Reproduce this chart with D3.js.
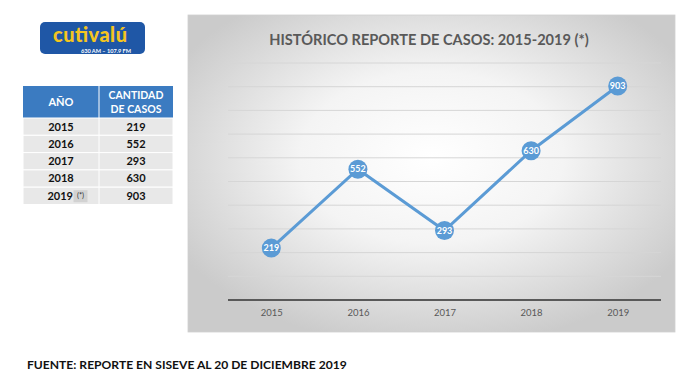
<!DOCTYPE html>
<html><head><meta charset="utf-8">
<script src="https://cdn.jsdelivr.net/npm/d3@7"></script>
<style>body{margin:0;background:#fff}svg{display:block}</style>
</head><body>
<script>
const years = ["2015","2016","2017","2018","2019"];
const cases = [219, 552, 293, 630, 903];
const tableYears = ["2015","2016","2017","2018","2019"];
const yTicks = [0,100,200,300,400,500,600,700,800,900,1000];
const title = "HISTÓRICO REPORTE DE CASOS: 2015-2019 (*)";
const footer = "FUENTE: REPORTE EN SISEVE AL 20 DE DICIEMBRE 2019";

const W = 696, H = 386;
const svg = d3.select("body").append("svg").attr("width", W).attr("height", H);
const defs = svg.append("defs");
const rg = defs.append("radialGradient").attr("id","bg").attr("cx","50%").attr("cy","45%").attr("r","60%");
rg.append("stop").attr("offset","0%").attr("stop-color","#ffffff");
rg.append("stop").attr("offset","45%").attr("stop-color","#f4f4f4");
rg.append("stop").attr("offset","100%").attr("stop-color","#cbcbcb");

const F = "Lato, 'Open Sans', sans-serif";

// Logo
const logo = svg.append("g");
logo.append("rect").attr("x",40).attr("y",22).attr("width",105).attr("height",32).attr("rx",5).attr("fill","#1f57a6");
logo.append("text").attr("x",90).attr("y",42).attr("text-anchor","middle").attr("font-family",F).attr("font-weight",900)
  .attr("font-size",20).attr("fill","#f4c51f").attr("textLength",74).text("cutivalú");
logo.append("text").attr("x",106).attr("y",52.5).attr("text-anchor","middle").attr("font-family",F).attr("font-weight",700)
  .attr("font-size",5.6).attr("fill","#fff").text("630 AM – 107.9 FM");

// Table
const tx0 = 23, tcol = 99, tx1 = 173, thy0 = 86, thy1 = 118, rowH = 17.3;
const tb = svg.append("g");
tb.append("rect").attr("x",tx0).attr("y",thy0).attr("width",tx1-tx0).attr("height",thy1-thy0).attr("fill","#3b7bc1");
tb.append("line").attr("x1",tcol).attr("x2",tcol).attr("y1",thy0).attr("y2",thy1).attr("stroke","#fff").attr("stroke-width",1);
tb.append("text").attr("x",(tx0+tcol)/2).attr("y",106).attr("text-anchor","middle").attr("font-family",F).attr("font-weight",700)
  .attr("font-size",11).attr("fill","#fff").text("AÑO");
tb.append("text").attr("x",(tcol+tx1)/2).attr("y",99).attr("text-anchor","middle").attr("font-family",F).attr("font-weight",700)
  .attr("font-size",10.5).attr("fill","#fff").text("CANTIDAD");
tb.append("text").attr("x",(tcol+tx1)/2).attr("y",113).attr("text-anchor","middle").attr("font-family",F).attr("font-weight",700)
  .attr("font-size",10.5).attr("fill","#fff").text("DE CASOS");
tableYears.forEach((yr,i)=>{
  const ry = thy1 + i*rowH;
  tb.append("rect").attr("x",tx0).attr("y",ry).attr("width",tx1-tx0).attr("height",rowH).attr("fill","#e8e8e8")
    .attr("stroke","#fff").attr("stroke-width",1);
  tb.append("line").attr("x1",tcol).attr("x2",tcol).attr("y1",ry).attr("y2",ry+rowH).attr("stroke","#fff");
  if (i===4) {
    tb.append("rect").attr("x",73.5).attr("y",ry+3).attr("width",14).attr("height",12).attr("fill","#d2d2d2");
    tb.append("text").attr("x",73).attr("y",ry+12.5).attr("text-anchor","end").attr("font-family",F)
      .attr("font-weight",700).attr("font-size",11).attr("fill","#111").text(yr);
    tb.append("text").attr("x",80.5).attr("y",ry+10.5).attr("text-anchor","middle").attr("font-family",F).attr("font-size",7.5).attr("fill","#333").text("(*)");
  } else {
    tb.append("text").attr("x",(tx0+tcol)/2).attr("y",ry+12.5).attr("text-anchor","middle").attr("font-family",F)
      .attr("font-weight",700).attr("font-size",11).attr("fill","#111").text(yr);
  }
  tb.append("text").attr("x",(tcol+tx1)/2).attr("y",ry+12.5).attr("text-anchor","middle").attr("font-family",F)
    .attr("font-weight",700).attr("font-size",11).attr("fill","#111").text(cases[i]);
});

// Chart panel
const px0 = 188, py0 = 15, px1 = 675, py1 = 332;
svg.append("rect").attr("x",px0).attr("y",py0).attr("width",px1-px0).attr("height",py1-py0).attr("fill","url(#bg)")
  .attr("stroke","#d0d0d0").attr("stroke-width",0.8);
svg.append("text").attr("x",429).attr("y",45).attr("text-anchor","middle").attr("font-family",F).attr("font-weight",700)
  .attr("font-size",14.6).attr("fill","#595959").text(title);

const x = d3.scalePoint().domain(years).range([228, 661]).padding(0.5);
const y = d3.scaleLinear().domain([0, 1000]).range([300, 63]);

const g = svg.append("g");
g.selectAll("line.grid").data(yTicks.slice(1)).join("line").attr("class","grid")
  .attr("x1",228).attr("x2",661).attr("y1",d=>y(d)).attr("y2",d=>y(d)).attr("stroke","#d6d6d6").attr("stroke-width",1);

const xAxis = g.append("g").attr("transform",`translate(0,${y(0)})`).call(d3.axisBottom(x).tickSize(0).tickPadding(9));
xAxis.select(".domain").attr("stroke","#595959").attr("stroke-width",2).attr("d","M228,0H661");
xAxis.selectAll("text").attr("font-family",F).attr("font-size",9.5).attr("fill","#595959");

const line = d3.line().x((d,i)=>x(years[i])).y(d=>y(d));
g.append("path").datum(cases).attr("d",line).attr("fill","none").attr("stroke","#5b9bd5").attr("stroke-width",3);
g.selectAll("circle.pt").data(cases).join("circle").attr("class","pt")
  .attr("cx",(d,i)=>x(years[i])).attr("cy",d=>y(d)).attr("r",9.5).attr("fill","#5b9bd5");
g.selectAll("text.lbl").data(cases).join("text").attr("class","lbl")
  .attr("x",(d,i)=>x(years[i])).attr("y",d=>y(d)+3.2).attr("text-anchor","middle").attr("font-family",F)
  .attr("font-weight",700).attr("font-size",9).attr("fill","#fff").text(d=>d);

svg.append("text").attr("x",27).attr("y",369).attr("font-family",F).attr("font-weight",700).attr("font-size",12.1)
  .attr("fill","#111").text(footer);
</script>
</body></html>
